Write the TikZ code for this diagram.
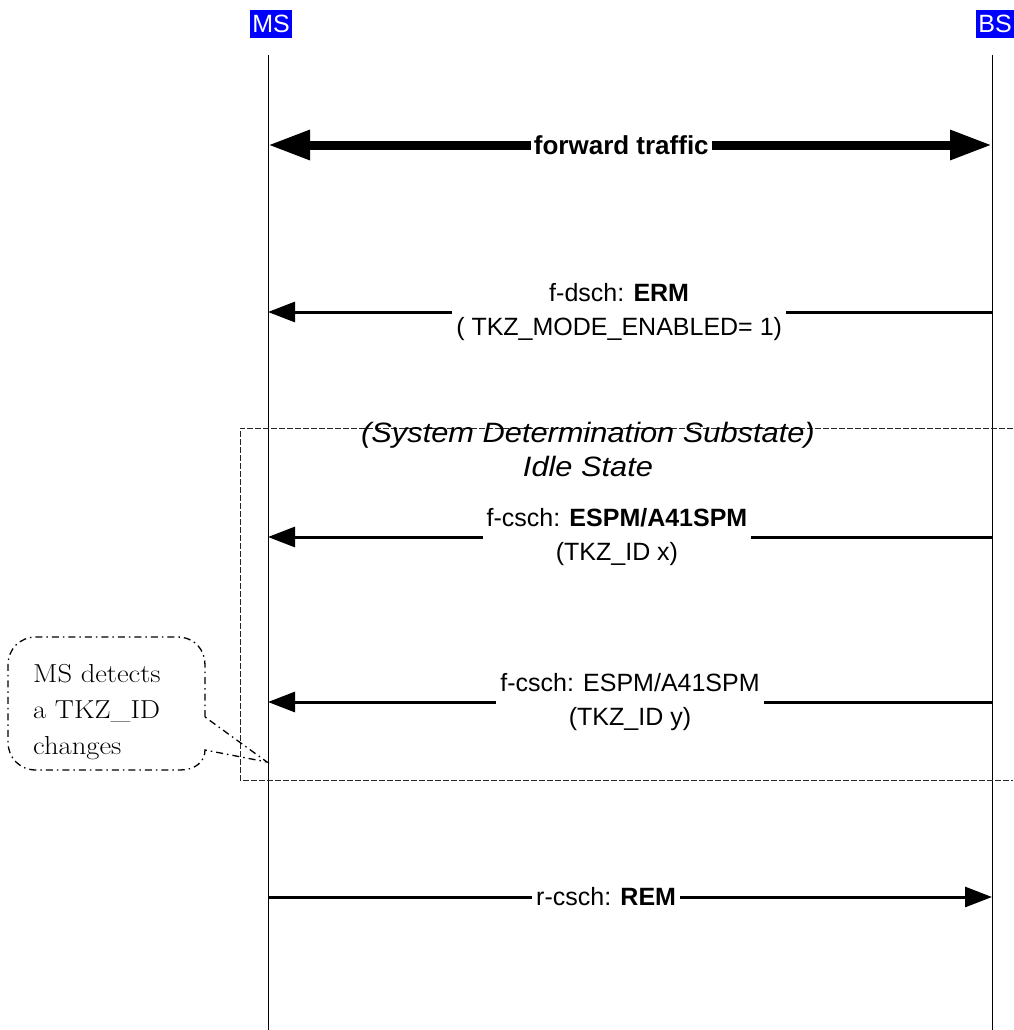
\documentclass[tikz,border=0pt]{standalone}
\usepackage{fontspec}
\newfontfamily\arial{Liberation Sans}
\usetikzlibrary{arrows.meta}
\definecolor{hdrblue}{RGB}{0,0,255}
\tikzset{
  lifeline/.style={line width=1pt},
  hdr/.style={fill=hdrblue, text=white, font=\arial\fontsize{25}{28}\selectfont, inner xsep=2pt, inner ysep=5pt},
  msg/.style={line width=3pt, -{Triangle[length=27pt,width=20pt]}},
  bigmsg/.style={line width=9pt, {Triangle[length=42pt,width=28pt]}-{Triangle[length=42pt,width=28pt]}},
  lbl/.style={font=\arial\fontsize{25}{34}\selectfont, fill=white, inner xsep=4pt, inner ysep=1pt, align=center},
  statebox/.style={line width=1pt, dash pattern=on 6pt off 2pt, black!85},
  statelbl/.style={font=\arial\itshape\fontsize{28}{34}\selectfont, align=center},
  callout/.style={line width=1.3pt, dash pattern=on 7pt off 4pt on 1.5pt off 4pt},
  callouttext/.style={font=\fontsize{26}{36}\selectfont, align=left, inner sep=0pt}
}
\begin{document}
\begin{tikzpicture}[x=1pt,y=-1pt]
\useasboundingbox (0,0) rectangle (1013,1030);
% headers
\node[hdr] (MS) at (271,24) {MS};
\node[hdr] (BS) at (995,24) {BS};
% lifelines
\coordinate (msTop) at (268,55);
\coordinate (msBot) at (268,1030);
\coordinate (bsTop) at (992,55);
\coordinate (bsBot) at (992,1030);
\draw[lifeline] (msTop) -- (msBot);
\draw[lifeline] (bsTop) -- (bsBot);
% state box
\coordinate (sbTR) at (1013,428);
\coordinate (sbTL) at (240,428);
\coordinate (sbBL) at (240,780);
\coordinate (sbBR) at (1013,780);
\draw[statebox] (sbTR) -- (sbTL) -- (sbBL) -- (sbBR);
\node[statelbl] (state) at (588,449) {\scalebox{1.1}[1]{(System Determination Substate)}\\\scalebox{1.1}[1]{Idle State}};
% forward traffic
\coordinate (ms1) at (268,145);
\coordinate (bs1) at (992,145);
\draw[bigmsg] (ms1) -- node[pos=0.488, lbl, font=\arial\bfseries\fontsize{26}{34}\selectfont, inner xsep=3pt] (fwd) {forward traffic} (bs1);
% ERM
\coordinate (ms2) at (268,312);
\coordinate (bs2) at (992,312);
\draw[msg] (bs2) -- node[pos=0.515, lbl] (erm) {f-dsch: \textbf{ERM}\\( TKZ\_MODE\_ENABLED= 1)} (ms2);
% ESPM x
\coordinate (ms3) at (268,537);
\coordinate (bs3) at (992,537);
\draw[msg] (bs3) -- node[pos=0.518, lbl] (espmx) {f-csch: \textbf{ESPM/A41SPM}\\(TKZ\_ID x)} (ms3);
% ESPM y
\coordinate (ms4) at (268,702);
\coordinate (bs4) at (992,702);
\draw[msg] (bs4) -- node[pos=0.5, lbl] (espmy) {f-csch: ESPM/A41SPM\\(TKZ\_ID y)} (ms4);
% REM
\coordinate (ms5) at (268,897);
\coordinate (bs5) at (992,897);
\draw[msg] (ms5) -- node[pos=0.467, lbl, inner ysep=2pt] (rem) {r-csch: \textbf{REM}} (bs5);
% callout
\coordinate (tip) at (267,762);
\draw[callout] (205,717) -- (205,665) .. controls (205,650) and (195,637) .. (177,637) -- (36,637)
  .. controls (20,637) and (8,649) .. (8,665) -- (8,742) .. controls (8,758) and (20,770) .. (36,770) -- (180,770)
  .. controls (195,770) and (205,762) .. (205,750) -- (tip) -- cycle;
\node[callouttext, anchor=west] (note) at (33,712) {\scalebox{1.1}[1]{MS detects}\\\scalebox{1.1}[1]{a TKZ\_ID}\\\scalebox{1.1}[1]{changes}};
\end{tikzpicture}
\end{document}
